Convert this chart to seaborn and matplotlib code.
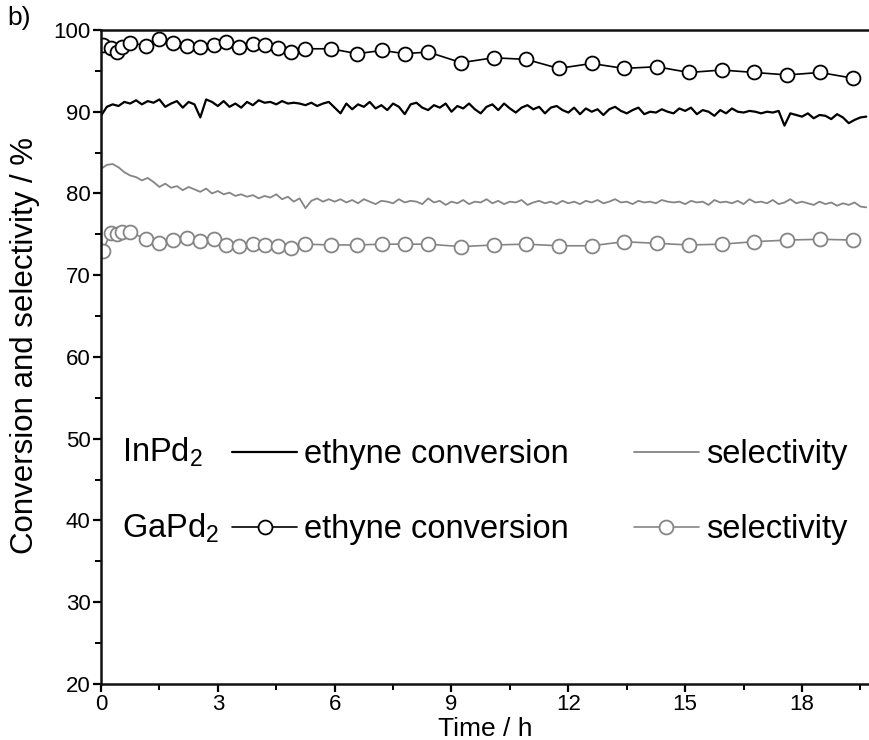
# Ethyne conversion and selectivity over time for InPd2 and GaPd2 (panel b)

import numpy as np
import pandas as pd
import matplotlib
matplotlib.use("Agg")
import matplotlib.pyplot as plt
import seaborn as sns

# InPd2: logged every 0.15 h
inpd2_conversion = [
    89.5, 90.6, 90.9, 90.7, 91.2, 91.0, 91.4, 90.9, 91.3, 91.1, 91.5, 90.6, 91.0, 91.3, 90.5, 91.2, 90.9, 89.3, 91.5, 91.2,
    90.7, 91.3, 90.6, 91.0, 90.5, 91.2, 90.8, 91.4, 91.1, 91.2, 90.9, 91.3, 91.0, 91.1, 91.0, 90.8, 91.1, 90.7, 91.0, 91.2,
    90.5, 89.8, 91.0, 90.3, 90.9, 90.6, 91.2, 90.4, 90.8, 90.2, 91.0, 90.6, 89.7, 90.9, 91.1, 90.5, 90.2, 90.8, 90.5, 91.0,
    90.0, 90.7, 90.4, 91.0, 90.3, 89.8, 90.6, 90.9, 90.2, 91.0, 90.4, 89.9, 90.5, 90.8, 90.3, 90.6, 89.8, 90.5, 90.7, 90.2,
    89.9, 90.5, 89.7, 90.4, 90.0, 90.3, 89.6, 90.3, 90.6, 90.1, 89.8, 90.2, 90.5, 89.7, 90.0, 89.9, 90.3, 90.0, 89.8, 90.4,
    90.1, 90.5, 89.7, 90.2, 90.0, 89.5, 90.2, 89.8, 90.4, 90.0, 89.9, 90.1, 90.0, 89.8, 90.0, 89.9, 90.1, 88.3, 89.8, 89.6,
    89.4, 89.8, 89.2, 89.6, 89.5, 89.1, 89.7, 89.3, 88.6, 89.0, 89.3, 89.4,
]
inpd2_selectivity = [
    83.0, 83.5, 83.6, 83.2, 82.6, 82.2, 82.0, 81.6, 81.9, 81.4, 80.8, 81.2, 80.7, 80.9, 80.4, 80.8, 80.5, 80.2, 80.6, 80.0,
    80.3, 79.9, 80.1, 79.7, 79.9, 79.6, 79.8, 79.4, 79.7, 79.5, 79.9, 79.3, 79.6, 79.0, 79.4, 78.2, 79.1, 79.4, 79.0, 79.3,
    79.0, 79.3, 78.9, 79.2, 78.8, 79.3, 79.0, 78.7, 79.1, 79.0, 78.8, 79.3, 78.9, 79.1, 79.0, 78.7, 79.4, 78.9, 79.1, 78.6,
    79.0, 78.8, 79.2, 78.7, 79.0, 78.9, 79.3, 78.8, 79.1, 78.7, 79.0, 78.9, 79.2, 78.6, 78.9, 79.1, 78.8, 79.0, 78.7, 79.1,
    78.8, 79.0, 78.7, 79.1, 78.9, 79.2, 78.8, 79.0, 79.3, 78.9, 79.0, 78.7, 79.1, 78.9, 79.0, 78.8, 79.2, 79.0, 78.9, 79.0,
    78.7, 79.1, 78.9, 79.0, 78.6, 79.2, 78.9, 79.0, 78.8, 79.1, 78.7, 79.3, 78.9, 79.0, 78.8, 79.2, 78.7, 78.9, 79.3, 78.8,
    79.0, 78.8, 78.6, 79.0, 78.7, 78.9, 78.5, 78.8, 78.6, 78.9, 78.4, 78.3,
]
inpd2_time = np.arange(len(inpd2_conversion)) * 0.15

# GaPd2: GC injections
gapd2_time = [
    0.05, 0.25, 0.40, 0.55, 0.75, 1.15, 1.50, 1.85, 2.20, 2.55, 2.90, 3.22, 3.55, 3.90, 4.22, 4.55, 4.88, 5.25,
    5.90, 6.58, 7.22, 7.80, 8.40, 9.25, 10.08, 10.92, 11.75, 12.60, 13.42, 14.27, 15.10, 15.94, 16.78, 17.62, 18.46, 19.31,
]
gapd2_conversion = [
    98.2, 97.8, 97.3, 97.9, 98.4, 98.1, 98.9, 98.4, 98.0, 97.9, 98.2, 98.5, 97.9, 98.3, 98.2, 97.8, 97.3, 97.7,
    97.7, 97.1, 97.5, 97.1, 97.3, 96.0, 96.6, 96.4, 95.3, 95.9, 95.3, 95.5, 94.8, 95.1, 94.8, 94.5, 94.8, 94.1,
]
gapd2_selectivity = [
    73.0, 75.2, 75.0, 75.3, 75.3, 74.4, 74.0, 74.3, 74.5, 74.2, 74.4, 73.7, 73.6, 73.8, 73.7, 73.6, 73.3, 73.8,
    73.7, 73.7, 73.8, 73.8, 73.8, 73.5, 73.7, 73.8, 73.6, 73.6, 74.1, 73.9, 73.7, 73.8, 74.1, 74.3, 74.4, 74.3,
]

inpd2 = pd.DataFrame({"Time": inpd2_time, "conversion": inpd2_conversion, "selectivity": inpd2_selectivity})
gapd2 = pd.DataFrame({"Time": gapd2_time, "conversion": gapd2_conversion, "selectivity": gapd2_selectivity})

sns.set_style("ticks")
plt.rcParams["font.family"] = ["Liberation Sans", "DejaVu Sans"]
plt.rcParams["mathtext.default"] = "regular"
for key in ["text.color", "axes.labelcolor", "xtick.color", "ytick.color"]:
    plt.rcParams[key] = "black"

fig = plt.figure(figsize=(8.69, 7.4), dpi=100)
ax = fig.add_axes([0.1162, 0.0757, 0.8838, 0.8838])

black = "#000000"
grey = "#858585"
circle = dict(marker="o", markersize=10, markerfacecolor="white", markeredgewidth=1.3)

sns.lineplot(data=inpd2, x="Time", y="conversion", color=black, lw=1.6, ax=ax, label="ethyne conversion")
sns.lineplot(data=gapd2, x="Time", y="conversion", color=black, lw=1.2, markeredgecolor=black,
             ax=ax, label="ethyne conversion", **circle)
sns.lineplot(data=inpd2, x="Time", y="selectivity", color=grey, lw=1.3, ax=ax, label="selectivity")
sns.lineplot(data=gapd2, x="Time", y="selectivity", color=grey, lw=1.2, markeredgecolor=grey,
             ax=ax, label="selectivity", **circle)

ax.set_xlim(0, 19.72)
ax.set_ylim(20, 100)
ax.set_xticks(np.arange(0, 19, 3))
ax.set_xticks(np.arange(1.5, 19.6, 3), minor=True)
ax.set_yticks(np.arange(20, 101, 10))
ax.set_yticks(np.arange(25, 100, 10), minor=True)
ax.tick_params(which="major", direction="out", length=6, width=1.6, labelsize=16, color=black, pad=1.5)
ax.tick_params(which="minor", direction="out", length=4, width=1.4, color=black)
ax.set_xlabel("Time / h", fontsize=19)
ax.xaxis.set_label_coords(0.5, -0.05)
ax.set_ylabel("Conversion and selectivity / %", fontsize=22.5)
ax.yaxis.set_label_coords(-0.08, 0.518)

for side in ["left", "bottom", "top"]:
    ax.spines[side].set_linewidth(1.8)
    ax.spines[side].set_color("#111111")
ax.spines["right"].set_visible(False)

# key: rows are catalysts, columns are quantities
handles, labels = ax.get_legend_handles_labels()
ax.legend(handles, labels, ncol=2, loc="upper left",
          bbox_to_anchor=(0.1706, 0.3745), frameon=False, fontsize=23.5, borderpad=0, borderaxespad=0,
          handlelength=2.0, handletextpad=0.2, columnspacing=2.0, labelspacing=1.36, numpoints=1)
ax.text(0.027, 0.355, "InPd$_2$", transform=ax.transAxes, fontsize=23.5, va="center")
ax.text(0.027, 0.2385, "GaPd$_2$", transform=ax.transAxes, fontsize=23.5, va="center")

fig.text(0.009, 0.975, "b)", fontsize=19, va="center")

fig.savefig("out.png", dpi=100)
